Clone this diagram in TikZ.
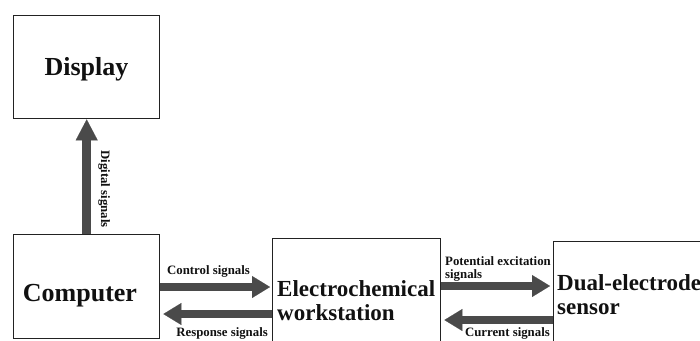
\documentclass[tikz,border=0pt]{standalone}
\usepackage{fontspec}
\setmainfont{Liberation Serif}
\usetikzlibrary{arrows.meta}
\definecolor{boxcol}{HTML}{222222}
\definecolor{arrcol}{HTML}{4A4A4A}
\definecolor{txtcol}{HTML}{111111}
\begin{document}
\begin{tikzpicture}[x=1pt,y=-1pt,
  box/.style={draw=boxcol, line width=1.4pt, rectangle, inner sep=0pt, anchor=north west},
  bigtext/.style={font=\bfseries\fontsize{26}{27}\selectfont, text=txtcol, inner sep=0pt},
  midtext/.style={font=\bfseries\fontsize{23}{25}\selectfont, text=txtcol, inner sep=0pt, anchor=base west},
  smalltext/.style={font=\bfseries\fontsize{12.8}{13}\selectfont, text=txtcol, inner sep=0pt},
  bigarrow/.style={draw=arrcol, line width=8.5pt,
    -{Triangle[width=22pt,length=18pt,line width=0.1pt,fill=arrcol]}},
  vertarrow/.style={draw=arrcol, line width=8.5pt,
    -{Triangle[width=22pt,length=21pt,line width=0.1pt,fill=arrcol]}}
]
\useasboundingbox (0,0) rectangle (700,340);
\clip (0,0) rectangle (700,340);
\fill[white] (0,0) rectangle (700,340);

% boxes
\node[box, minimum width=146pt, minimum height=103pt] (display) at (13,15) {};
\node[box, minimum width=146pt, minimum height=104pt] (computer) at (13,234) {};
\node[box, minimum width=168pt, minimum height=130pt] (electro) at (272,238) {};
\node[box, minimum width=200pt, minimum height=130pt] (sensor) at (553,241) {};

% box texts
\node[bigtext, anchor=base] (displaytext) at (86.5,75) {Display};
\node[bigtext, anchor=base] (computertext) at (80,301) {Computer};
\node[midtext] (electrotext1) at (277,296) {Electrochemical};
\node[midtext] (electrotext2) at (277,320) {workstation};
\node[midtext] (sensortext1) at (557,290) {Dual-electrode};
\node[midtext] (sensortext2) at (557,314) {sensor};

% level coordinates
\coordinate (yctrl) at (0,287);
\coordinate (yresp) at (0,314);
\coordinate (ypot) at (0,286);
\coordinate (ycur) at (0,320);

% arrows
\draw[vertarrow] (computer.north) -- (display.south);
\draw[bigarrow, shorten >=2pt] (computer.east |- yctrl) -- (electro.west |- yctrl);
\draw[bigarrow, shorten >=3pt] (electro.west |- yresp) -- (computer.east |- yresp);
\draw[bigarrow, shorten >=3pt] (electro.east |- ypot) -- (sensor.west |- ypot);
\draw[bigarrow, shorten >=3pt] (sensor.west |- ycur) -- (electro.east |- ycur);

% labels
\node[smalltext, rotate=-90, anchor=base] (digital) at (101,189) {Digital signals};
\node[smalltext, anchor=base west] (ctrl) at (167,274) {Control signals};
\node[smalltext, anchor=base east] (resp) at (268,336.5) {Response signals};
\node[smalltext, anchor=base west] (pot1) at (445,265) {Potential excitation};
\node[smalltext, anchor=base west] (pot2) at (445,278) {signals};
\node[smalltext, anchor=base east] (cur) at (550,336.5) {Current signals};
\end{tikzpicture}
\end{document}
